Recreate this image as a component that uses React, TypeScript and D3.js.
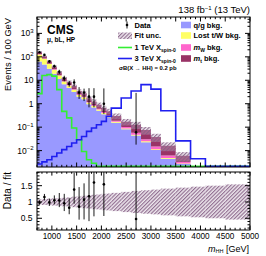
import * as d3 from "d3";

// m_HH bin edges (GeV), variable width above 2.2 TeV
const binEdges = [
  700, 800, 900, 1000, 1100, 1200, 1300, 1400, 1500, 1600, 1700, 1800, 1900, 2000,
  2100, 2200, 2400, 2600, 2800, 3000, 3200, 3500, 3800, 4100, 4500, 5000,
];

// background components, events / 100 GeV
const qgBkg = [
  64, 47, 31, 19, 11.4, 6.7, 4.7, 3.2, 1.96, 1.57, 0.95, 0.69, 0.5, 0.36, 0.26, 0.156,
  0.082, 0.044, 0.0225, 0.0106, 0.0045, 0.0027, 0, 0, 0,
];
const lostTWBkg = [
  61, 35, 18.2, 9.1, 4.4, 2.1, 1.3, 0.75, 0.42, 0.31, 0.17, 0.11, 0.072, 0.046, 0.029,
  0.015, 0.0068, 0.0038, 0.0023, 0.0008, 0.0003, 0.0001, 0, 0, 0,
];
const mWBkg = [
  3.2, 2.1, 1.95, 1.14, 0.66, 0.38, 0.25, 0.23, 0.14, 0.11, 0.07, 0.062, 0.045, 0.033,
  0.029, 0.018, 0.012, 0.01, 0.006, 0.0034, 0.0014, 0.0005, 0, 0, 0,
];
const mTopBkg = [
  32, 21, 13.7, 8.7, 5.5, 3.3, 2.25, 1.62, 0.98, 0.81, 0.51, 0.39, 0.29, 0.21, 0.163,
  0.111, 0.07, 0.068, 0.044, 0.023, 0.0098, 0.0027, 0, 0, 0,
];
// relative fit uncertainty per bin
const fitUnc = [
  0.08, 0.09, 0.1, 0.11, 0.12, 0.13, 0.14, 0.16, 0.17, 0.19, 0.2, 0.22, 0.23, 0.25, 0.26,
  0.28, 0.31, 0.34, 0.36, 0.38, 0.41, 0.44, 0.47, 0.5, 0.54,
];

const sig1TeV = [
  2.7, 16, 17.5, 15, 4, 0.47, 0.25, 0.092, 0.029, 0.0092, 0.0041, 0.0029, 0, 0, 0, 0, 0,
  0, 0, 0, 0, 0, 0, 0, 0,
];
const sig3TeV = [
  0.0027, 0.0033, 0.0041, 0.0056, 0.0079, 0.011, 0.015, 0.021, 0.029, 0.04, 0.066, 0.092,
  0.127, 0.176, 0.29, 0.65, 1.75, 3.5, 6.5, 4.2, 0.5, 0.026, 0.0045, 0, 0,
];

// data (events / 100 GeV) and the ends of its error bars
const dataVal = [157, 121, 64, 40, 23, 12, 7, 8, 3, 3, 2, 2, null, 1, null, null, null, 0.06];
const dataLo = [147, 110, 57, 35.3, 18.5, 9, 5.3, 5.5, 1.6, 1.3, 0.7, 0.7, null, 0.37, null, null, null, 0.018];
const dataHi = [168, 131, 71.5, 45.6, 28, 15.6, 9.5, 11, 5.1, 4.4, 4.6, 4.6, null, 4.5, null, null, null, 2.9];

const xTicks = [1000, 1500, 2000, 2500, 3000, 3500, 4000, 4500, 5000];
const yTicks = [0.01, 0.1, 1, 10, 100, 1000];
const yTickLabels = [["10", "\u22122"], ["10", "\u22121"], ["1", ""], ["10", ""], ["10", "2"], ["10", "3"]];
const ratioTicks = [0.5, 1, 1.5];
const ratioTickLabels = ["0.5", "1", "1.5"];

const bkgNames = ["q/g bkg.", "Lost t/W bkg.", "m_W bkg.", "m_t bkg."];
const bkgColors = ["#9999ff", "#ffff66", "#ff66cc", "#993366"];
const sigColors = ["#33ee33", "#1f1ff0"];

const FONT = "'Liberation Sans', Arial, Helvetica, sans-serif";
const L = 37, R = 250, T = 17, MB = 167, RT = 172, RB = 230;
const Y_MIN = 0.002;

type P = [number, number, number];

function stepPts(lo: number[], hi: number[]): P[] {
  const pts: P[] = [];
  hi.forEach((v, i) => {
    pts.push([binEdges[i], lo[i], v]);
    pts.push([binEdges[i + 1], lo[i], v]);
  });
  return pts;
}

export default function App() {
  const x = d3.scaleLinear().domain([700, 5000]).range([L, R]);
  const y = d3.scaleLog().domain([Y_MIN, 5000]).range([MB, T]);
  const yr = d3.scaleLinear().domain([0.14, 1.92]).range([RB, RT]);
  const yc = (v: number) => y(Math.max(v, Y_MIN));

  const comps = [qgBkg, lostTWBkg, mWBkg, mTopBkg];
  const cum: number[][] = [];
  comps.forEach((c, k) => cum.push(c.map((v, i) => v + (k > 0 ? cum[k - 1][i] : 0))));
  const total = cum[3];
  const zeros = total.map(() => Y_MIN);

  const area = d3.area<P>().x((d) => x(d[0])).y0((d) => yc(d[1])).y1((d) => yc(d[2]));
  const sigLine = d3
    .line<P>()
    .x((d) => x(d[0]))
    .y((d) => Math.min(yc(d[2]), MB - 0.8));

  const xMinor = d3.range(700, 5001, 100);
  const yMinor: number[] = [];
  for (let e = -3; e <= 3; e++)
    for (let k = 1; k <= 9; k++) {
      const v = k * Math.pow(10, e);
      if (v > Y_MIN && v < 5000) yMinor.push(v);
    }
  const rMinor = d3.range(0.2, 1.91, 0.1);

  const txt = { fontFamily: FONT, fill: "#000" } as const;

  return (
    <svg width={266} height={256} style={{ position: "absolute", left: 0, top: 0, background: "#fff" }}>
      <defs>
        <pattern id="hatch" patternUnits="userSpaceOnUse" width={2.6} height={2.6} patternTransform="rotate(45)">
          <rect width={2.6} height={2.6} fill="#cdbccd" fillOpacity={0.35} />
          <line x1={0.6} y1={0} x2={0.6} y2={2.6} stroke="#866086" strokeWidth={1.05} />
        </pattern>
        <clipPath id="clipMain">
          <rect x={L} y={T} width={R - L} height={MB - T} />
        </clipPath>
        <clipPath id="clipRatio">
          <rect x={L} y={RT} width={R - L} height={RB - RT} />
        </clipPath>
      </defs>

      {/* main panel */}
      <g clipPath="url(#clipMain)">
        {cum.map((c, k) => (
          <path key={k} d={area(stepPts(k === 0 ? zeros : cum[k - 1], c)) || ""} fill={bkgColors[k]} />
        ))}
        {total.map((t, i) =>
          t > 0 ? (
            <rect
              key={i}
              x={x(binEdges[i])}
              width={x(binEdges[i + 1]) - x(binEdges[i])}
              y={yc(t * (1 + fitUnc[i]))}
              height={yc(t * (1 - fitUnc[i])) - yc(t * (1 + fitUnc[i]))}
              fill="url(#hatch)"
            />
          ) : null
        )}
        {[sig1TeV, sig3TeV].map((s, k) => (
          <path key={k} d={sigLine(stepPts(zeros, s)) || ""} fill="none" stroke={sigColors[k]} strokeWidth={1.6} />
        ))}
        {dataVal.map((v, i) => {
          if (v == null) return null;
          const cx = x((binEdges[i] + binEdges[i + 1]) / 2);
          return (
            <g key={i}>
              <line x1={cx} x2={cx} y1={yc(dataLo[i] as number)} y2={yc(dataHi[i] as number)} stroke="#000" strokeWidth={0.9} />
              <circle cx={cx} cy={yc(v)} r={1.3} fill="#000" />
            </g>
          );
        })}
      </g>

      {/* ratio panel */}
      <g clipPath="url(#clipRatio)">
        {fitUnc.map((u, i) => (
          <rect
            key={i}
            x={x(binEdges[i])}
            width={x(binEdges[i + 1]) - x(binEdges[i])}
            y={yr(1 + u)}
            height={yr(1 - u) - yr(1 + u)}
            fill="url(#hatch)"
          />
        ))}
        {dataVal.map((v, i) => {
          if (v == null) return null;
          const cx = x((binEdges[i] + binEdges[i + 1]) / 2);
          const t = total[i];
          return (
            <g key={i}>
              <line x1={cx} x2={cx} y1={yr((dataLo[i] as number) / t)} y2={yr((dataHi[i] as number) / t)} stroke="#000" strokeWidth={0.9} />
              <circle cx={cx} cy={yr(v / t)} r={1.3} fill="#000" />
            </g>
          );
        })}
      </g>

      {/* frames and ticks */}
      <g stroke="#000" strokeWidth={1} fill="none">
        <rect x={L} y={T} width={R - L} height={MB - T} />
        <rect x={L} y={RT} width={R - L} height={RB - RT} />
        {xMinor.map((v) => {
          const major = v % 500 === 0;
          const len = major ? 4.5 : 2.2;
          const xx = x(v);
          return (
            <g key={v}>
              <line x1={xx} x2={xx} y1={MB} y2={MB - len} />
              <line x1={xx} x2={xx} y1={T} y2={T + len} />
              <line x1={xx} x2={xx} y1={RB} y2={RB - len} />
              <line x1={xx} x2={xx} y1={RT} y2={RT + len * 0.8} />
            </g>
          );
        })}
        {yMinor.map((v) => {
          const major = yTicks.includes(v);
          const len = major ? 5 : 2.5;
          const yy = y(v);
          return (
            <g key={v}>
              <line x1={L} x2={L + len} y1={yy} y2={yy} />
              <line x1={R} x2={R - len} y1={yy} y2={yy} />
            </g>
          );
        })}
        {rMinor.map((v) => {
          const major = Math.abs(v * 2 - Math.round(v * 2)) < 1e-6;
          const len = major ? 5 : 2.5;
          const yy = yr(v);
          return (
            <g key={v}>
              <line x1={L} x2={L + len} y1={yy} y2={yy} />
              <line x1={R} x2={R - len} y1={yy} y2={yy} />
            </g>
          );
        })}
      </g>

      {/* tick labels */}
      {yTicks.map((v, i) => (
        <text key={v} {...txt} x={33.5} y={y(v)} dy="0.35em" fontSize={8.5} textAnchor="end">
          {yTickLabels[i][0]}
          {yTickLabels[i][1] ? (
            <tspan fontSize={6} dy={-3.5}>
              {yTickLabels[i][1]}
            </tspan>
          ) : null}
        </text>
      ))}
      {ratioTicks.map((v, i) => (
        <text key={v} {...txt} x={32.5} y={yr(v)} dy="0.35em" fontSize={8.5} textAnchor="end">
          {ratioTickLabels[i]}
        </text>
      ))}
      {xTicks.map((v) => (
        <text key={v} {...txt} x={x(v)} y={238.5} fontSize={8.2} textAnchor="middle">
          {v}
        </text>
      ))}

      {/* axis titles */}
      <text {...txt} fontSize={9.3} textAnchor="end" transform={`translate(10.5,${T + 1}) rotate(-90)`}>
        Events / 100 GeV
      </text>
      <text {...txt} fontSize={10} textAnchor="end" transform={`translate(10.5,${RT}) rotate(-90)`}>
        Data / fit
      </text>
      <text {...txt} x={249} y={251.5} fontSize={9} textAnchor="end">
        <tspan fontStyle="italic">m</tspan>
        <tspan fontSize={5.5} dy={1.8}>HH</tspan>
        <tspan dy={-1.8}> [GeV]</tspan>
      </text>

      {/* header */}
      <text {...txt} x={250} y={13.3} fontSize={9.5} textAnchor="end">
        138 fb<tspan fontSize={6} dy={-3.5}>{"\u22121"}</tspan>
        <tspan dy={3.5}> (13 TeV)</tspan>
      </text>
      <text {...txt} x={47} y={33.5} fontSize={12} fontWeight="bold">
        CMS
      </text>
      <text {...txt} x={47} y={42} fontSize={6.5} fontWeight="bold">
        {"\u03bc, bL, HP"}
      </text>

      {/* legend, left column */}
      <g>
        <line x1={127} x2={127} y1={21.5} y2={28.5} stroke="#000" strokeWidth={0.9} />
        <circle cx={127} cy={25} r={1.3} fill="#000" />
        <text {...txt} x={134.5} y={27.6} fontSize={7.5} fontWeight="bold">Data</text>
        <rect x={118} y={32.5} width={14} height={6.5} fill="url(#hatch)" />
        <text {...txt} x={134.5} y={38.2} fontSize={7.5} fontWeight="bold">Fit unc.</text>
        <line x1={118} x2={132} y1={47.5} y2={47.5} stroke={sigColors[0]} strokeWidth={1.6} />
        <text {...txt} x={134.5} y={50.2} fontSize={7.5} fontWeight="bold">
          1 TeV X<tspan fontSize={5} dy={1.8}>spin-0</tspan>
        </text>
        <line x1={118} x2={132} y1={58.5} y2={58.5} stroke={sigColors[1]} strokeWidth={1.6} />
        <text {...txt} x={134.5} y={61.2} fontSize={7.5} fontWeight="bold">
          3 TeV X<tspan fontSize={5} dy={1.8}>spin-0</tspan>
        </text>
        <text {...txt} x={119} y={70.3} fontSize={5.9} fontWeight="bold">
          {"\u03c3B(X \u2192 HH) = 0.2 pb"}
        </text>
      </g>

      {/* legend, right column */}
      {bkgNames.map((name, k) => {
        const rowY = [25, 35.5, 47.5, 58.5][k];
        const parts = name.split("_");
        return (
          <g key={name}>
            <rect x={181} y={rowY - 3.3} width={10} height={6.6} fill={bkgColors[k]} />
            <text {...txt} x={193.5} y={rowY + 2.7} fontSize={7.5} fontWeight="bold">
              {parts.length === 1 ? (
                name
              ) : (
                <>
                  <tspan fontStyle="italic">m</tspan>
                  <tspan fontSize={5} dy={1.8}>{parts[1].split(" ")[0]}</tspan>
                  <tspan dy={-1.8}>{" " + parts[1].split(" ")[1]}</tspan>
                </>
              )}
            </text>
          </g>
        );
      })}
    </svg>
  );
}
